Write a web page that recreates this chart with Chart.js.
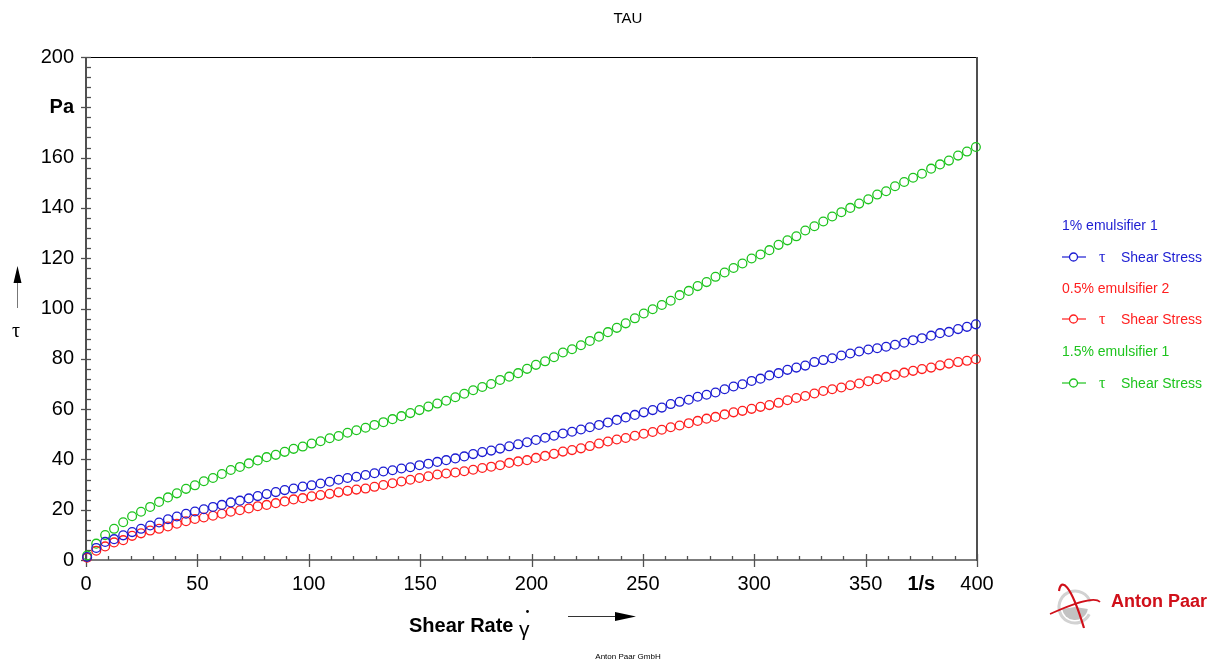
<!DOCTYPE html>
<html>
<head>
<meta charset="utf-8">
<title>TAU</title>
<script src="https://cdn.jsdelivr.net/npm/chart.js@4.4.1/dist/chart.umd.min.js"></script>
<style>
    body { margin: 0; background: #fff; }
    #wrap { position: relative; width: 1223px; height: 662px; font-family: 'Liberation Sans', Arial, sans-serif; }
    #wrap canvas { position: absolute; left: 0; top: 0; }
    .txt { position: absolute; white-space: nowrap; line-height: 1; }
    .legend-row { position: absolute; left: 1062px; height: 16px; font-size: 14px; line-height: 16px; white-space: nowrap; }
    .legend-row svg { position: absolute; left: 0; top: 3px; }
    .legend-row .sym { position: absolute; left: 37px; font-family: 'Liberation Serif', 'DejaVu Serif', serif; font-size: 16px; }
    .legend-row .qty { position: absolute; left: 59px; }
</style>
</head>
<body>
<div id="wrap">
    <canvas id="tauChart" width="1223" height="662"></canvas>
    <div class="txt" style="left:0;width:1256px;text-align:center;top:10px;font-size:15px;">TAU</div>
    <div class="txt" style="left:12px;top:320px;font-family:'Liberation Serif','DejaVu Serif',serif;font-size:20px;">τ</div>
    <div class="txt" style="left:409px;top:615px;font-size:20px;font-weight:bold;">Shear Rate</div>
    <div class="txt" style="left:519px;top:618px;font-size:21px;">γ</div>
    <div class="txt" style="left:0;width:1256px;text-align:center;top:653px;font-size:8px;">Anton Paar GmbH</div>
    <div class="txt" style="left:1111px;top:592px;font-size:18px;font-weight:bold;color:#d0101a;">Anton Paar</div>
    <div id="legend"></div>
</div>

<script>
// Shear rate ramp (1/s), one entry per measuring point
const shearRate = [
    0.5, 4.6, 8.6, 12.6, 16.7, 20.7, 24.7, 28.8, 32.8, 36.8,
    40.8, 44.9, 48.9, 52.9, 57.0, 61.0, 65.0, 69.1, 73.1, 77.1,
    81.1, 85.2, 89.2, 93.2, 97.3, 101.3, 105.3, 109.4, 113.4, 117.4,
    121.4, 125.5, 129.5, 133.5, 137.6, 141.6, 145.6, 149.7, 153.7, 157.7,
    161.7, 165.8, 169.8, 173.8, 177.9, 181.9, 185.9, 190.0, 194.0, 198.0,
    202.0, 206.1, 210.1, 214.1, 218.2, 222.2, 226.2, 230.3, 234.3, 238.3,
    242.3, 246.4, 250.4, 254.4, 258.5, 262.5, 266.5, 270.6, 274.6, 278.6,
    282.6, 286.7, 290.7, 294.7, 298.8, 302.8, 306.8, 310.9, 314.9, 318.9,
    322.9, 327.0, 331.0, 335.0, 339.1, 343.1, 347.1, 351.2, 355.2, 359.2,
    363.2, 367.3, 371.3, 375.3, 379.4, 383.4, 387.4, 391.5, 395.5, 399.5
];

// Shear stress tau (Pa)
const tauEmul1 = [
    1.2, 4.8, 7.2, 8.3, 9.8, 11.1, 12.4, 13.7, 14.9, 16.2,
    17.3, 18.4, 19.3, 20.2, 21.1, 21.9, 22.9, 23.6, 24.5, 25.4,
    26.2, 27.0, 27.8, 28.4, 29.2, 29.7, 30.4, 31.1, 31.9, 32.6,
    33.1, 33.8, 34.5, 35.2, 35.7, 36.4, 36.9, 37.7, 38.3, 39.0,
    39.7, 40.4, 41.2, 42.1, 42.9, 43.5, 44.3, 45.2, 46.0, 46.8,
    47.7, 48.6, 49.4, 50.3, 51.0, 51.9, 52.8, 53.7, 54.7, 55.7,
    56.7, 57.7, 58.7, 59.6, 60.6, 62.0, 62.9, 63.7, 64.9, 65.7,
    66.6, 67.9, 69.0, 69.9, 71.2, 72.1, 73.4, 74.3, 75.6, 76.5,
    77.3, 78.7, 79.5, 80.2, 81.3, 82.1, 82.9, 83.7, 84.2, 84.8,
    85.6, 86.4, 87.4, 88.2, 89.2, 90.2, 90.7, 91.8, 92.7, 93.7
];
const tauEmul05 = [
    0.9, 3.7, 5.4, 7.0, 7.9, 9.6, 10.6, 11.7, 12.4, 13.3,
    14.4, 15.4, 16.3, 16.9, 17.6, 18.4, 19.2, 19.8, 20.5, 21.4,
    21.9, 22.6, 23.3, 24.1, 24.6, 25.3, 25.8, 26.3, 26.9, 27.5,
    28.0, 28.4, 29.1, 29.8, 30.5, 31.2, 31.9, 32.6, 33.3, 34.0,
    34.4, 34.8, 35.3, 35.9, 36.6, 37.1, 37.7, 38.6, 39.2, 39.7,
    40.6, 41.4, 42.2, 43.1, 43.7, 44.4, 45.3, 46.3, 47.1, 47.9,
    48.5, 49.4, 50.2, 50.9, 51.8, 52.8, 53.5, 54.4, 55.3, 56.2,
    56.9, 57.9, 58.7, 59.3, 60.1, 60.9, 61.6, 62.5, 63.5, 64.4,
    65.2, 66.2, 67.2, 67.9, 68.6, 69.5, 70.2, 71.1, 71.9, 72.8,
    73.6, 74.5, 75.2, 75.9, 76.5, 77.4, 78.1, 78.7, 79.2, 79.8
];
const tauEmul15 = [
    1.8, 6.5, 9.9, 12.4, 15.0, 17.4, 19.2, 21.1, 23.1, 24.9,
    26.5, 28.3, 29.7, 31.3, 32.6, 34.2, 35.8, 37.0, 38.4, 39.6,
    40.9, 41.8, 43.0, 44.2, 45.1, 46.3, 47.2, 48.4, 49.3, 50.6,
    51.6, 52.6, 53.7, 54.8, 56.0, 57.2, 58.4, 59.6, 61.0, 62.2,
    63.3, 64.7, 66.1, 67.5, 68.8, 70.0, 71.6, 72.9, 74.3, 76.0,
    77.6, 79.0, 80.6, 82.5, 83.8, 85.4, 87.1, 88.8, 90.6, 92.3,
    94.1, 96.1, 98.0, 99.7, 101.4, 103.1, 105.3, 107.0, 108.9, 110.5,
    112.6, 114.3, 116.1, 117.9, 119.9, 121.5, 123.2, 125.3, 127.1, 128.7,
    131.0, 132.7, 134.6, 136.6, 138.3, 140.0, 141.7, 143.4, 145.3, 146.6,
    148.6, 150.3, 152.0, 153.6, 155.6, 157.3, 158.8, 160.8, 162.4, 164.2
];

const seriesNames = ['1% emulsifier 1', '0.5% emulsifier 2', '1.5% emulsifier 1'];
const seriesColors = ['rgb(28, 28, 210)', 'rgb(255, 30, 30)', 'rgb(30, 196, 30)'];

// Axis ticks; the unit labels sit in the tick rows
const yTickValues = [0, 20, 40, 60, 80, 100, 120, 140, 160, 180, 200];
const yUnitAt = 180;
const yUnitLabel = 'Pa';
const yMinorStep = 4;
const xTickValues = [0, 50, 100, 150, 200, 250, 300, 350, 375, 400];
const xMajorTicks = [0, 50, 100, 150, 200, 250, 300, 350, 400];
const xUnitAt = 375;
const xUnitLabel = '1/s';
const xMinorStep = 10;

const FONT = "'Liberation Sans', Arial, sans-serif";
const AXIS_GREY = '#505050';

function toPoints(ys) {
    return shearRate.map((x, i) => ({ x: x, y: ys[i] }));
}

// frame, axis lines and tick marks drawn from the chart scales
const axisFrame = {
    id: 'axisFrame',
    beforeDatasetsDraw(chart) {
        const { ctx, chartArea: a, scales: { x, y } } = chart;
        const seg = (x1, y1, x2, y2) => {
            ctx.beginPath();
            ctx.moveTo(x1, y1);
            ctx.lineTo(x2, y2);
            ctx.stroke();
        };
        ctx.save();

        ctx.strokeStyle = '#000';
        ctx.lineWidth = 1;
        seg(a.left, a.top + 0.5, a.right, a.top + 0.5);

        ctx.strokeStyle = AXIS_GREY;
        ctx.lineWidth = 2;
        seg(a.left, a.top, a.left, a.bottom + 1);
        seg(a.right, a.top, a.right, a.bottom + 1);
        ctx.lineWidth = 1.5;
        seg(a.left, a.bottom, a.right, a.bottom);

        // y ticks: majors cross the axis, minors point inwards
        ctx.lineWidth = 1.3;
        for (let v = y.min; v <= y.max; v += yMinorStep) {
            const py = Math.round(y.getPixelForValue(v)) + 0.5;
            if (yTickValues.includes(v)) {
                seg(a.left - 5, py, a.left + 5, py);
            } else {
                seg(a.left + 1, py, a.left + 5, py);
            }
        }
        // x ticks
        for (let v = x.min; v <= x.max; v += xMinorStep) {
            const px = Math.round(x.getPixelForValue(v)) + 0.5;
            if (xMajorTicks.includes(v)) {
                seg(px, a.bottom - 6, px, a.bottom + 7);
            } else {
                seg(px, a.bottom - 4, px, a.bottom);
            }
        }
        ctx.restore();
    },
    afterDraw(chart) {
        const ctx = chart.ctx;
        ctx.save();

        // tau arrow
        ctx.strokeStyle = '#777';
        ctx.lineWidth = 1;
        ctx.beginPath();
        ctx.moveTo(17.5, 308);
        ctx.lineTo(17.5, 282);
        ctx.stroke();
        ctx.fillStyle = '#000';
        ctx.beginPath();
        ctx.moveTo(13.5, 283);
        ctx.lineTo(21.5, 283);
        ctx.lineTo(17.5, 266);
        ctx.closePath();
        ctx.fill();

        // shear rate arrow
        ctx.strokeStyle = '#333';
        ctx.beginPath();
        ctx.moveTo(568, 616.5);
        ctx.lineTo(618, 616.5);
        ctx.stroke();
        ctx.beginPath();
        ctx.moveTo(615, 612);
        ctx.lineTo(615, 621);
        ctx.lineTo(636, 616.5);
        ctx.closePath();
        ctx.fill();

        // dot over gamma
        ctx.beginPath();
        ctx.arc(527.5, 611.5, 1.4, 0, Math.PI * 2);
        ctx.fill();

        // company logo mark
        ctx.strokeStyle = '#d2d2d2';
        ctx.lineWidth = 3;
        ctx.beginPath();
        ctx.arc(1075, 607, 16, 0.15 * Math.PI, 1.9 * Math.PI);
        ctx.stroke();
        ctx.fillStyle = '#c2c2c2';
        ctx.beginPath();
        ctx.moveTo(1075, 607);
        ctx.arc(1075, 607, 13, 0.05 * Math.PI, 0.95 * Math.PI);
        ctx.closePath();
        ctx.fill();
        ctx.strokeStyle = '#d0101a';
        ctx.lineWidth = 2.2;
        ctx.beginPath();
        ctx.moveTo(1059, 591);
        ctx.bezierCurveTo(1061, 578, 1070, 582, 1084, 628);
        ctx.stroke();
        ctx.lineWidth = 1.6;
        ctx.beginPath();
        ctx.moveTo(1050, 614);
        ctx.bezierCurveTo(1068, 606, 1094, 595, 1100, 602);
        ctx.stroke();
        ctx.restore();
    }
};

const ctx = document.getElementById('tauChart');
Chart.defaults.color = '#000';
Chart.defaults.font.family = FONT;

const chart = new Chart(ctx, {
    type: 'scatter',
    data: {
        datasets: [tauEmul1, tauEmul05, tauEmul15].map((ys, i) => ({
            label: seriesNames[i],
            data: toPoints(ys),
            showLine: false,
            pointStyle: 'circle',
            pointRadius: 4.4,
            pointBorderWidth: 1.3,
            pointBorderColor: seriesColors[i],
            pointBackgroundColor: 'rgba(0,0,0,0)',
            clip: false
        }))
    },
    options: {
        responsive: false,
        animation: false,
        devicePixelRatio: 1,
        layout: { padding: { left: 0, top: 57, right: 246, bottom: 0 } },
        plugins: {
            legend: { display: false },
            title: { display: false },
            tooltip: { enabled: false }
        },
        scales: {
            x: {
                type: 'linear',
                min: 0,
                max: 400,
                grid: { display: false, drawTicks: false },
                border: { display: false },
                afterBuildTicks: s => { s.ticks = xTickValues.map(v => ({ value: v })); },
                afterFit: s => { s.height = 102; },
                ticks: {
                    autoSkip: false,
                    maxRotation: 0,
                    padding: 12,
                    font: c => ({ family: FONT, size: 20, weight: c.tick && c.tick.value === xUnitAt ? 'bold' : 'normal' }),
                    callback: v => v === xUnitAt ? xUnitLabel : v
                }
            },
            y: {
                min: 0,
                max: 200,
                grid: { display: false, drawTicks: false },
                border: { display: false },
                afterBuildTicks: s => { s.ticks = yTickValues.map(v => ({ value: v })); },
                afterFit: s => { s.width = 86; },
                ticks: {
                    autoSkip: false,
                    padding: 12,
                    font: c => ({ family: FONT, size: 20, weight: c.tick && c.tick.value === yUnitAt ? 'bold' : 'normal' }),
                    callback: v => v === yUnitAt ? yUnitLabel : v
                }
            }
        }
    },
    plugins: [axisFrame]
});

// legend: sample name, then marker and quantity
const legend = document.getElementById('legend');
const rowTops = [217, 248.5, 280, 311, 343, 374.5];
chart.data.datasets.forEach((ds, i) => {
    const color = seriesColors[i];
    const head = document.createElement('div');
    head.className = 'legend-row';
    head.style.top = rowTops[i * 2] + 'px';
    head.style.color = color;
    head.textContent = ds.label;
    legend.appendChild(head);

    const row = document.createElement('div');
    row.className = 'legend-row';
    row.style.top = rowTops[i * 2 + 1] + 'px';
    row.style.color = color;
    row.innerHTML =
        '<svg width="24" height="10"><line x1="0" y1="5" x2="24" y2="5" stroke="' + color + '" stroke-width="1.2"/>' +
        '<circle cx="11.5" cy="5" r="4" fill="#fff" stroke="' + color + '" stroke-width="1.3"/></svg>' +
        '<span class="sym">τ</span><span class="qty">Shear Stress</span>';
    legend.appendChild(row);
});
</script>
</body>
</html>
